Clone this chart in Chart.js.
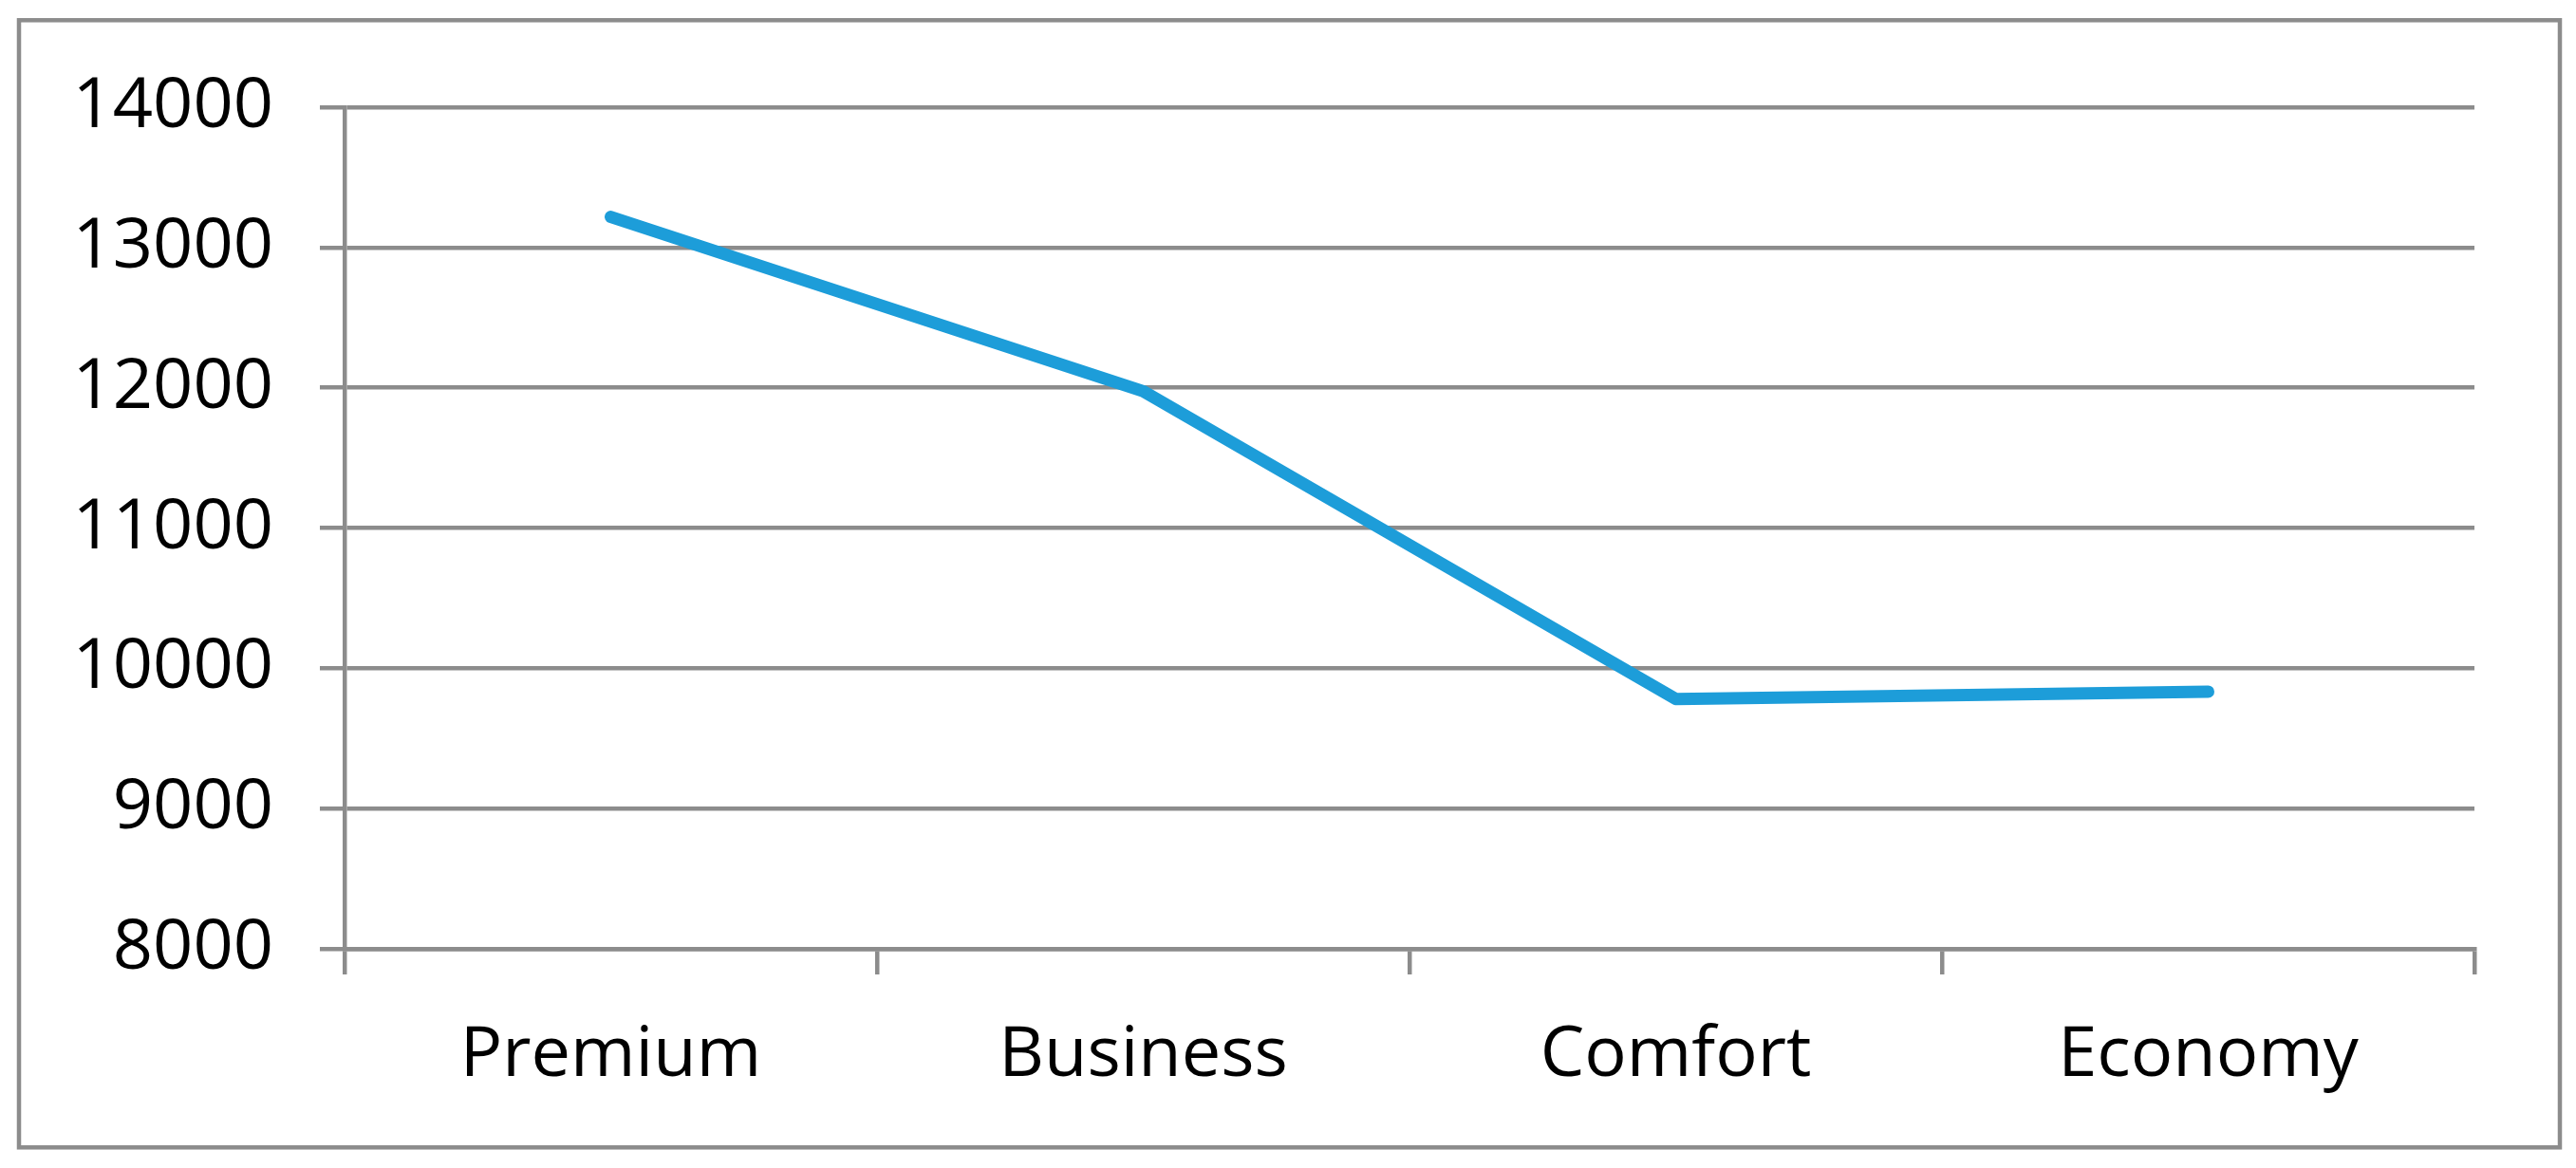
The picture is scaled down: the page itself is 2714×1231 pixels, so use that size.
<!DOCTYPE html>
<html>
<head>
<meta charset="utf-8">
<script src="https://cdn.jsdelivr.net/npm/chart.js@4"></script>
<style>
  html, body { margin: 0; padding: 0; background: #ffffff; }
  #c { display: block; }
</style>
</head>
<body>
<canvas id="c" width="2714" height="1231"></canvas>
<script>
const categories = ['Premium', 'Business', 'Comfort', 'Economy'];
const seriesValues = [13218, 11975, 9781, 9833];
const yMin = 8000;
const yMax = 14000;
const yStep = 1000;

const GRID = '#8c8c8c';
const LINE = '#1d9dd9';
const FONT = { family: '"Open Sans", sans-serif', size: 74 };

const framePlugin = {
  id: 'frame',
  afterDraw(chart) {
    const ctx = chart.ctx;
    ctx.save();
    ctx.strokeStyle = GRID;
    ctx.lineWidth = 4.5;
    ctx.strokeRect(20, 21.3, 2677, 1188);
    ctx.restore();
  }
};

new Chart(document.getElementById('c'), {
  type: 'line',
  data: {
    labels: categories,
    datasets: [{
      data: seriesValues,
      borderColor: LINE,
      backgroundColor: LINE,
      borderWidth: 13,
      borderCapStyle: 'round',
      borderJoinStyle: 'round',
      tension: 0,
      pointRadius: 0,
      pointHoverRadius: 0,
      fill: false
    }]
  },
  options: {
    responsive: false,
    animation: false,
    devicePixelRatio: 1,
    layout: { padding: { top: 113, right: 107, left: 0, bottom: 0 } },
    plugins: {
      legend: { display: false },
      tooltip: { enabled: false },
      title: { display: false }
    },
    scales: {
      x: {
        offset: true,
        grid: {
          offset: true,
          drawOnChartArea: false,
          drawTicks: true,
          tickLength: 27,
          color: GRID,
          lineWidth: 4.5
        },
        border: { display: true, color: GRID, width: 4.5 },
        ticks: {
          color: '#000000',
          font: FONT,
          padding: 42,
          maxRotation: 0,
          autoSkip: false
        },
        afterFit(scale) { scale.height = 231; }
      },
      y: {
        min: yMin,
        max: yMax,
        grid: {
          drawOnChartArea: true,
          drawTicks: true,
          tickLength: 26,
          color: GRID,
          lineWidth: 4.5
        },
        border: { display: true, color: GRID, width: 4.5 },
        ticks: {
          stepSize: yStep,
          color: '#000000',
          font: FONT,
          padding: 49,
          callback: (v) => String(v)
        },
        afterFit(scale) { scale.width = 363; }
      }
    }
  },
  plugins: [framePlugin]
});
</script>
</body>
</html>
